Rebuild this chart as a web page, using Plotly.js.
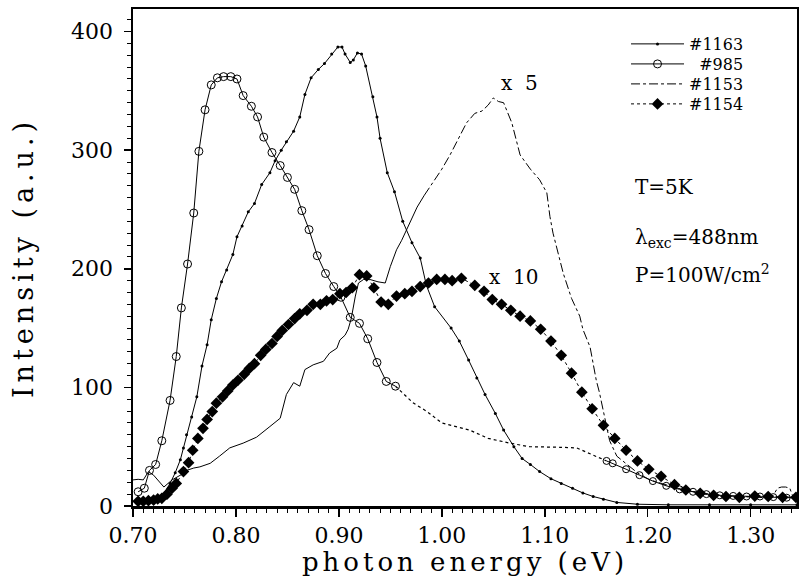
<!DOCTYPE html>
<html><head><meta charset="utf-8">
<script src="https://cdn.plot.ly/plotly-3.0.1.min.js"></script>
<style>
html,body{margin:0;padding:0;background:#fff;}
#chart{width:799px;height:577px;}
.xtitle{letter-spacing:4px;}
.ytitle{letter-spacing:5px;}
</style></head><body><div id="chart"></div>
<script>
// #1163 (small dots, solid line)
const e1163 = [0.705,0.715,0.723,0.729,0.736,0.741,0.746,0.749,0.752,0.757,0.762,0.767,0.772,0.776,0.781,0.786,0.791,0.797,0.801,0.806,0.812,0.818,0.825,0.833,0.838,0.844,0.849,0.856,0.862,0.867,0.873,0.880,0.886,0.893,0.899,0.903,0.906,0.911,0.914,0.918,0.922,0.926,0.933,0.937,0.940,0.947,0.954,0.962,0.971,0.979,0.985,0.993,1.009,1.017,1.026,1.034,1.042,1.052,1.060,1.070,1.078,1.086,1.095,1.106,1.116,1.127,1.137,1.147,1.157,1.170,1.190,1.220,1.260,1.300,1.345];
const i1163 = [3,4,6.5,9,19,28,39,49,60,75,92,118,136,157,175,189,199,212,227,236,248,255,271,281,291,300,307,316,328,347,361,368,373,381,387,387,381,374,376,382,381,371,345,328,310,281,265,240,222,209,186,168,150,139,123,108,94,78,64,50,40,35,29,23,19,15,11,8,5.6,3,1.5,1,1,1,1];

// #985 (open circles): main part, dotted middle, circled tail
const e985a = [0.705,0.711,0.716,0.722,0.728,0.736,0.742,0.747,0.753,0.759,0.764,0.770,0.776,0.782,0.788,0.795,0.801,0.807,0.815,0.821,0.827,0.835,0.843,0.850,0.857,0.864,0.871,0.879,0.887,0.895,0.902,0.911,0.920,0.928,0.937,0.946,0.955];
const i985a = [12,15,30,35,55,89,126,167,204,247,299,334,355,361,362,362,360,346,337,328,311,298,287,277,267,249,233,211,196,185,176,159,154,141,121,105,101];
const e985b = [0.955,0.972,0.985,1.000,1.027,1.045,1.066,1.085,1.115,1.131,1.144,1.160];
const i985b = [101,87,80,70,64,57,53,50,49.5,49,44,38];
const e985c = [1.160,1.166,1.179,1.192,1.205,1.218,1.231,1.244,1.257,1.270,1.283,1.296,1.309,1.322,1.335,1.345];
const i985c = [38,36,31,26,21,17,14,12,10,9,8.5,8,8,7.5,7,7];

// #1153 (x5): rising part and falling part
const e1153a = [0.700,0.705,0.710,0.715,0.720,0.725,0.730,0.738,0.746,0.752,0.759,0.765,0.775,0.784,0.794,0.807,0.820,0.833,0.843,0.849,0.856,0.862,0.867,0.875,0.885,0.891,0.898,0.901,0.906,0.909,0.912,0.916,0.919,0.924,0.930,0.938,0.945,0.950,0.956,0.961,0.970,0.976,0.983];
const i1153a = [22,22.5,22,29,26,20.5,16,22,26,30,32,33,36,42,49,53,58,67,74,94,104,101,115,119,122,129,133,140,144,149,158,177,188,191,191,189,188,202,216,224,240,252,262];
const e1153b = [0.983,0.992,1.000,1.008,1.016,1.024,1.032,1.039,1.045,1.050,1.055,1.060,1.068,1.076,1.086,1.095,1.102,1.105,1.108,1.113,1.118,1.126,1.134,1.137,1.144,1.147,1.150,1.153,1.158,1.163,1.170,1.180,1.190,1.202,1.213,1.225,1.238,1.251,1.264,1.277,1.290,1.303,1.315,1.322,1.326,1.330,1.334,1.338,1.341,1.345];
const i1153b = [262,274,284,296,310,323,331,333,338,344,341,340,323,296,284,275,264,244,230,213,196,175,160,149,134,120,106,96,75,55,42,35,28,22,19,16,13,11,9.5,8.5,8,7.5,7,9,15,16,16,15,8,7];

// #1154 (x10, filled markers)
const e1154 = [0.705,0.710,0.715,0.720,0.724,0.728,0.733,0.738,0.742,0.749,0.754,0.758,0.763,0.768,0.772,0.777,0.781,0.787,0.792,0.797,0.802,0.808,0.813,0.818,0.824,0.829,0.835,0.840,0.845,0.851,0.857,0.862,0.869,0.875,0.882,0.888,0.894,0.901,0.907,0.913,0.920,0.927,0.934,0.941,0.948,0.956,0.964,0.971,0.979,0.987,0.995,1.003,1.010,1.019,1.032,1.041,1.049,1.058,1.067,1.076,1.086,1.096,1.106,1.116,1.126,1.136,1.146,1.157,1.168,1.179,1.190,1.201,1.213,1.226,1.237,1.251,1.264,1.276,1.289,1.304,1.317,1.331,1.344];
const i1154 = [4,4,4.5,5,6,6.5,10,15,19,29,36.5,47,57,65.5,73,79.6,86.7,92,97,102,106,111,116,120,127,132,137,143,148,153,158,162,165,170,170,173,174,179,180,184,195,194,184,172,170,177,179,181,185,188,191,191,190,192,186,181,174,170,165,160,156,149,139,127,112,96,82,68,57,47,38,31,25,18,13.5,10.7,9,8,7.3,8.4,8,7.3,7.3];

const FONT = 'DejaVu Serif, serif';
const K = '#000';

const traces = [
  {x:e1163, y:i1163, name:'#1163', mode:'lines+markers', legend:'legend',
   line:{color:K, width:1}, marker:{symbol:'circle', size:3, color:K}},
  {x:e985a, y:i985a, name:'\u00a0\u00a0#985', mode:'lines+markers', legend:'legend2',
   line:{color:K, width:1}, marker:{symbol:'circle-open', size:8, color:K, line:{width:1, color:K}}},
  {x:e985b, y:i985b, mode:'lines', showlegend:false, line:{color:K, width:1.2, dash:'dot'}},
  {x:e985c, y:i985c, mode:'lines+markers', showlegend:false,
   line:{color:K, width:1}, marker:{symbol:'circle-open', size:7, color:K, line:{width:1, color:K}}},
  {x:e1153a, y:i1153a, mode:'lines', showlegend:false, line:{color:K, width:1}},
  {x:e1153b, y:i1153b, name:'#1153', mode:'lines', legend:'legend3', line:{color:K, width:1, dash:'dashdot'}},
  {x:e1154, y:i1154, name:'#1154', mode:'lines+markers', legend:'legend4',
   line:{color:K, width:1, dash:'dot'}, marker:{symbol:'diamond', size:9, color:K}}
];

function leg(y) {
  return {x:0.7425, y:y, xanchor:'left', yanchor:'middle', bgcolor:'rgba(0,0,0,0)',
          itemwidth:53, font:{family:FONT, size:16, color:K}, borderwidth:0};
}

const layout = {
  width:799, height:577,
  margin:{l:133, r:2, t:9, b:71},
  paper_bgcolor:'#fff', plot_bgcolor:'#fff',
  font:{family:FONT, color:K},
  showlegend:true,
  legend:leg(0.9296), legend2:leg(0.8893), legend3:leg(0.8491), legend4:leg(0.8089),
  xaxis:{range:[0.70,1.345], tick0:0.7, dtick:0.1, tickformat:'.2f',
         ticks:'outside', ticklen:8, tickwidth:1.5, tickcolor:K,
         minor:{dtick:0.01, ticks:'outside', ticklen:4, tickwidth:1, tickcolor:K},
         showline:true, linewidth:2.5, linecolor:K, mirror:true,
         showgrid:false, zeroline:false,
         tickfont:{family:FONT, size:22, color:K},
         title:{text:'photon energy (eV)', font:{family:FONT, size:26, color:K}, standoff:4}},
  yaxis:{range:[0,419], tick0:0, dtick:100,
         ticks:'outside', ticklen:7, tickwidth:1.5, tickcolor:K,
         minor:{dtick:10, ticks:'outside', ticklen:4, tickwidth:1, tickcolor:K},
         showline:true, linewidth:2.5, linecolor:K, mirror:true,
         showgrid:false, zeroline:false, ticklabelstandoff:6,
         tickfont:{family:FONT, size:22, color:K},
         title:{text:'Intensity (a.u.)', font:{family:FONT, size:27, color:K}, standoff:30}},
  annotations:[
    {x:1.075, y:357, xref:'x', yref:'y', text:'x\u00a0\u00a05', showarrow:false, font:{family:FONT, size:20, color:K}},
    {x:1.07, y:193, xref:'x', yref:'y', text:'x\u00a0\u00a010', showarrow:false, font:{family:FONT, size:20, color:K}},
    {x:0.753, y:0.642, xref:'paper', yref:'paper', xanchor:'left', yanchor:'middle', text:'T=5K', showarrow:false, font:{family:FONT, size:20, color:K}},
    {x:0.753, y:0.539, xref:'paper', yref:'paper', xanchor:'left', yanchor:'middle', text:'λ<sub>exc</sub>=488nm', showarrow:false, font:{family:FONT, size:20, color:K}},
    {x:0.753, y:0.467, xref:'paper', yref:'paper', xanchor:'left', yanchor:'middle', text:'P=100W/cm<sup>2</sup>', showarrow:false, font:{family:FONT, size:20, color:K}}
  ]
};

Plotly.newPlot('chart', traces, layout, {displayModeBar:false, staticPlot:true});
</script></body></html>
